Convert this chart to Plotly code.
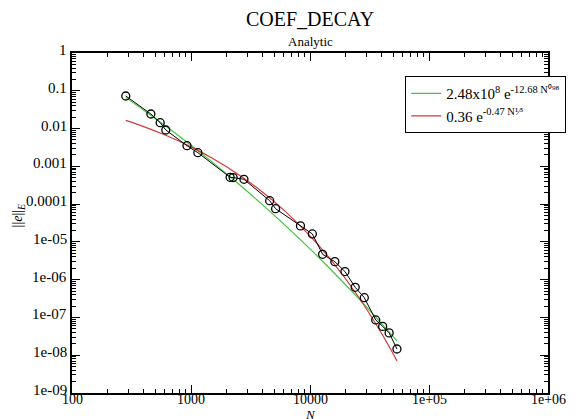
import math
import plotly.graph_objects as go

# Measured data (N, ||e||_E)
N_data = [283, 460, 551, 614, 925, 1142, 2130, 2260, 2786, 4582, 5140, 8318, 10470,
          12760, 16170, 19670, 23990, 28600, 35650, 40800, 46240, 53800]
E_data = [0.0728, 0.0243, 0.0143, 0.00917, 0.00352, 0.0023, 0.000513, 0.000505, 0.000454,
          0.000123, 7.57e-5, 2.65e-5, 1.62e-5, 4.7e-6, 3.0e-6, 1.64e-6, 6.28e-7, 3.33e-7,
          8.6e-8, 5.8e-8, 3.9e-8, 1.46e-8]

# Fit curves
N_fit = [283, 400, 600, 1000, 1500, 2500, 4000, 6000, 10000, 15000, 25000, 40000, 53800]
E_green = [0.0659, 0.0307, 0.0122, 3.61e-3, 1.31e-3, 3.47e-4, 9.57e-5, 3.0e-5, 6.52e-6,
           1.835e-6, 3.46e-7, 6.89e-8, 2.40e-8]
E_red = [0.01646, 0.01128, 6.84e-3, 3.28e-3, 1.66e-3, 6.11e-4, 2.07e-4, 7.04e-5, 1.44e-5,
         3.33e-6, 3.87e-7, 3.76e-8, 7.09e-9]

x_tickvals = [100, 1000, 10000, 100000, 1000000]
x_ticktext = ["100", "1000", "10000", "1e+05", "1e+06"]
y_tickvals = [1, 0.1, 0.01, 0.001, 0.0001, 1e-5, 1e-6, 1e-7, 1e-8, 1e-9]
y_ticktext = ["1", "0.1", "0.01", "0.001", "0.0001", "1e-05", "1e-06", "1e-07", "1e-08", "1e-09"]

green_name = "2.48x10<sup>8</sup> e<sup>-12.68 N⁰⁹⁸</sup>"
red_name = "0.36 e<sup>-0.47 N¹⁄³</sup>"

FONT = "Liberation Serif"

fig = go.Figure()
fig.add_trace(go.Scatter(x=N_fit, y=E_green, mode="lines", name=green_name,
                         line=dict(color="#3ec83e", width=1.2, shape="spline")))
fig.add_trace(go.Scatter(x=N_fit, y=E_red, mode="lines", name=red_name,
                         line=dict(color="#d03a3a", width=1.2, shape="spline")))
fig.add_trace(go.Scatter(x=N_data, y=E_data, mode="lines+markers", showlegend=False,
                         line=dict(color="black", width=1),
                         marker=dict(symbol="circle-open", size=8, color="black",
                                     line=dict(width=1.3, color="black"))))

axis_common = dict(
    type="log", dtick=1, showticklabels=False, automargin=False,
    showgrid=False, zeroline=False, showline=True, linecolor="black",
    linewidth=1.5, mirror="allticks", ticks="inside", ticklen=8, tickwidth=1,
    tickcolor="black",
    minor=dict(ticks="inside", ticklen=4, tickwidth=1, tickcolor="black", dtick="D1",
               showgrid=False),
)
fig.update_xaxes(**axis_common, range=[2, 6])
fig.update_yaxes(**axis_common, range=[-9, 0])

annotations = [
    dict(text="COEF_DECAY", x=0.5, y=1.10, xref="paper", yref="paper",
         xanchor="center", yanchor="middle", showarrow=False,
         font=dict(family=FONT, size=20, color="black")),
    dict(text="Analytic", x=0.5, y=1.035, xref="paper", yref="paper",
         xanchor="center", yanchor="middle", showarrow=False,
         font=dict(family=FONT, size=13, color="black")),
    dict(text="<i>N</i>", x=0.5, y=-0.064, xref="paper", yref="paper",
         xanchor="center", yanchor="middle", showarrow=False,
         font=dict(family=FONT, size=13, color="black")),
    dict(text="||<i>e</i>||<sub><i>E</i></sub>", x=-0.113, y=0.52, xref="paper",
         yref="paper", xanchor="center", yanchor="middle", showarrow=False, textangle=-90,
         font=dict(family=FONT, size=14, color="black")),
]
for v, t in zip(x_tickvals, x_ticktext):
    annotations.append(dict(text=t, x=math.log10(v), y=0, xref="x", yref="paper",
                            xanchor="center", yanchor="top", yshift=3, showarrow=False,
                            font=dict(family=FONT, size=14, color="black")))
for v, t in zip(y_tickvals, y_ticktext):
    annotations.append(dict(text=t, x=0, y=math.log10(v), xref="paper", yref="y",
                            xanchor="right", yanchor="middle", xshift=-3, yshift=3,
                            showarrow=False,
                            font=dict(family=FONT, size=15, color="black")))

# page body has an 8px default margin, so the figure is sized to fit the window
fig.update_layout(
    width=570, height=411,
    margin=dict(l=64, r=26, t=45, b=26),
    paper_bgcolor="white", plot_bgcolor="white",
    font=dict(family=FONT, color="black"),
    showlegend=True,
    legend=dict(x=0.70, y=0.932, xanchor="left", yanchor="top",
                bgcolor="white", bordercolor="black", borderwidth=1,
                font=dict(family=FONT, size=15, color="black")),
    annotations=annotations,
)

fig.write_html("out.html")
